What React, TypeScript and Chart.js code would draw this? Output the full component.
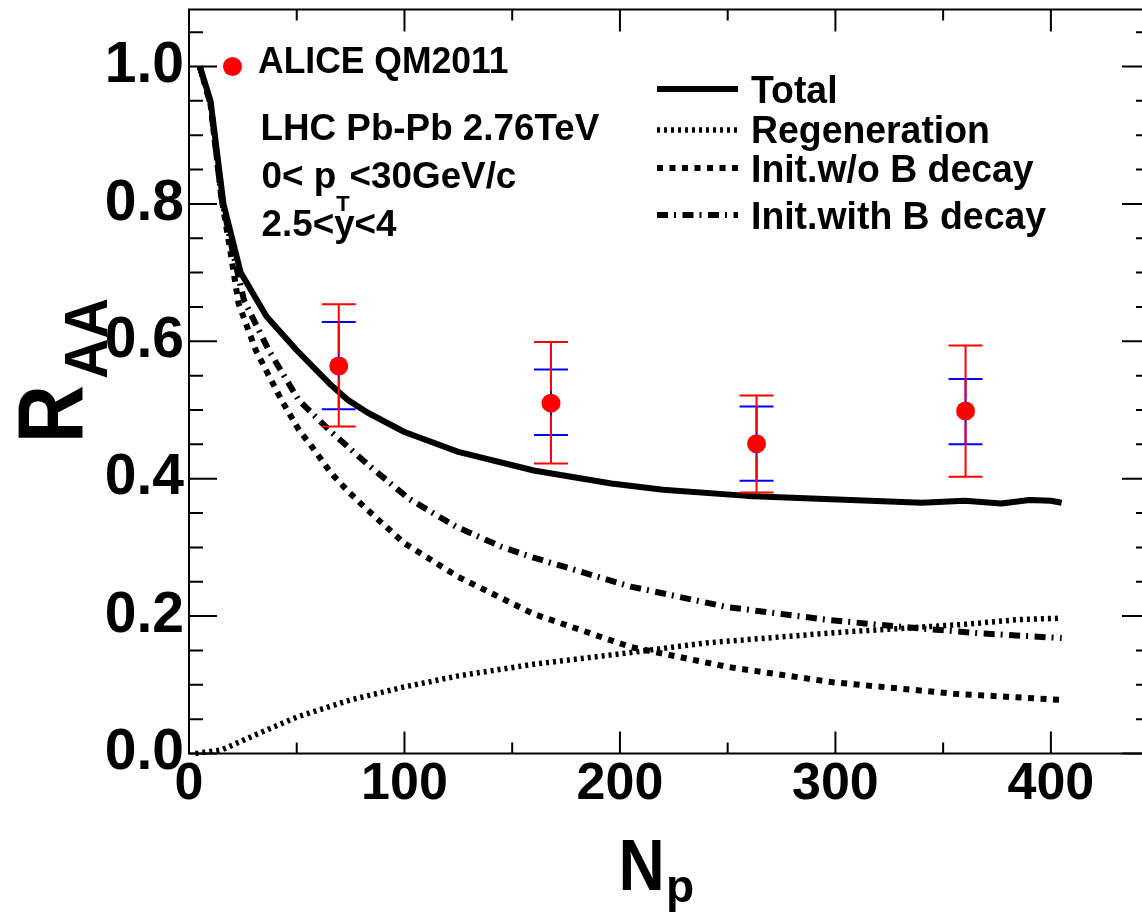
import React, { useEffect, useRef } from "react";
import { Chart, registerables } from "chart.js";

Chart.register(...registerables);

// ---------- data ----------
const npTotal = [5, 10, 16, 24, 36, 50, 65, 74, 83, 100, 125, 160, 196, 220, 259, 298, 340, 360, 377, 390, 400, 405];
const raaTotal = [1.0, 0.95, 0.8, 0.7, 0.636, 0.587, 0.539, 0.514, 0.496, 0.468, 0.439, 0.412, 0.393, 0.384, 0.375, 0.37, 0.365, 0.368, 0.364, 0.369, 0.368, 0.365];

const npRegen = [3, 15, 30, 50, 75, 100, 125, 160, 200, 240, 300, 340, 360, 385, 405];
const raaRegen = [0.0, 0.005, 0.026, 0.053, 0.078, 0.097, 0.113, 0.13, 0.145, 0.161, 0.176, 0.184, 0.188, 0.195, 0.197];

const npInitNoB = [5, 10, 15, 19, 23, 31, 43, 51, 56, 66, 74, 83, 100, 125, 160, 205, 250, 298, 355, 405];
const raaInitNoB = [1.0, 0.945, 0.81, 0.735, 0.655, 0.587, 0.514, 0.471, 0.451, 0.408, 0.381, 0.354, 0.306, 0.257, 0.203, 0.155, 0.126, 0.104, 0.087, 0.078];

const npInitB = [5, 10, 15, 20, 25.5, 37, 51, 66, 84, 102, 124, 145, 160, 205, 250, 298, 332, 367, 405];
const raaInitB = [1.0, 0.945, 0.81, 0.735, 0.66, 0.587, 0.514, 0.468, 0.418, 0.371, 0.33, 0.301, 0.285, 0.243, 0.213, 0.194, 0.184, 0.175, 0.168];

const aliceNp = [69.5, 168, 263.4, 360.4];
const aliceRaa = [0.564, 0.51, 0.451, 0.4985];
const aliceStatLo = [0.501, 0.4635, 0.397, 0.45];
const aliceStatHi = [0.628, 0.559, 0.505, 0.545];
const aliceSysLo = [0.476, 0.422, 0.38, 0.403];
const aliceSysHi = [0.654, 0.599, 0.521, 0.594];

const xMajorTicks = [0, 100, 200, 300, 400];
const xMinorTicks = [50, 150, 250, 350];
const yMajorTicks = [0, 0.2, 0.4, 0.6, 0.8, 1.0];
const yMinorTicks = [0.05, 0.1, 0.15, 0.25, 0.3, 0.35, 0.45, 0.5, 0.55, 0.65, 0.7, 0.75, 0.85, 0.9, 0.95, 1.05];

const legendLabels = ["Total", "Regeneration", "Init.w/o B decay", "Init.with B decay"];

// ---------- helpers ----------
const FONT = "'Liberation Sans', Arial, Helvetica, sans-serif";

function txt(
  ctx: CanvasRenderingContext2D,
  s: string,
  x: number,
  y: number,
  size: number,
  sx = 1,
  sy = 1,
  rot = 0
): number {
  ctx.save();
  ctx.translate(x, y);
  if (rot) ctx.rotate(rot);
  ctx.scale(sx, sy);
  ctx.font = `bold ${size}px ${FONT}`;
  ctx.textAlign = "left";
  ctx.textBaseline = "alphabetic";
  ctx.fillStyle = "#000";
  ctx.fillText(s, 0, 0);
  const w = ctx.measureText(s).width * sx;
  ctx.restore();
  return w;
}

const zip = (xs: number[], ys: number[]) => xs.map((x, i) => ({ x, y: ys[i] }));

const rootPlugin = {
  id: "rootStyle",
  beforeDatasetDraw(chart: any, args: any) {
    if (args.index !== 0) return;
    const ctx: CanvasRenderingContext2D = chart.ctx;
    const xs = chart.scales.x;
    const ys = chart.scales.y;
    ctx.save();
    ctx.lineWidth = 2;
    const cap = 17;
    aliceNp.forEach((np, i) => {
      const px = xs.getPixelForValue(np);
      // stat (blue)
      const sLo = ys.getPixelForValue(aliceStatLo[i]);
      const sHi = ys.getPixelForValue(aliceStatHi[i]);
      ctx.strokeStyle = "#0000ff";
      ctx.beginPath();
      ctx.moveTo(px, sLo);
      ctx.lineTo(px, sHi);
      ctx.moveTo(px - cap, sLo);
      ctx.lineTo(px + cap, sLo);
      ctx.moveTo(px - cap, sHi);
      ctx.lineTo(px + cap, sHi);
      ctx.stroke();
      // sys (red)
      const py = ys.getPixelForValue(aliceRaa[i]);
      const rLo = ys.getPixelForValue(aliceSysLo[i]);
      const rHi = ys.getPixelForValue(aliceSysHi[i]);
      ctx.strokeStyle = "#ff0000";
      ctx.beginPath();
      ctx.moveTo(px, rHi);
      ctx.lineTo(px, py - 12);
      ctx.moveTo(px, py + 12);
      ctx.lineTo(px, rLo);
      ctx.moveTo(px - cap, rLo);
      ctx.lineTo(px + cap, rLo);
      ctx.moveTo(px - cap, rHi);
      ctx.lineTo(px + cap, rHi);
      ctx.stroke();
    });
    ctx.restore();
  },
  afterDraw(chart: any) {
    const ctx: CanvasRenderingContext2D = chart.ctx;
    const { left, right, top, bottom } = chart.chartArea;
    const xs = chart.scales.x;
    const ys = chart.scales.y;
    ctx.save();
    ctx.strokeStyle = "#000";
    ctx.lineWidth = 2;
    ctx.setLineDash([]);
    ctx.strokeRect(left, top, right - left, bottom - top);
    ctx.beginPath();
    const yt = (v: number, len: number) => {
      const p = ys.getPixelForValue(v);
      ctx.moveTo(left, p);
      ctx.lineTo(left + len, p);
      ctx.moveTo(right, p);
      ctx.lineTo(right - len, p);
    };
    const xt = (v: number, len: number) => {
      const p = xs.getPixelForValue(v);
      ctx.moveTo(p, bottom);
      ctx.lineTo(p, bottom - len);
      ctx.moveTo(p, top);
      ctx.lineTo(p, top + len);
    };
    yMajorTicks.forEach((v) => yt(v, 28));
    yMinorTicks.forEach((v) => yt(v, 14));
    xMajorTicks.forEach((v) => xt(v, 22));
    xMinorTicks.forEach((v) => xt(v, 11));
    ctx.stroke();

    // axis titles
    txt(ctx, "R", 82, 443, 80, 1, 1.17, -Math.PI / 2);
    txt(ctx, "AA", 107, 379, 56, 1, 1.1, -Math.PI / 2);
    txt(ctx, "N", 618.5, 890, 64, 1, 1.135);
    txt(ctx, "p", 666, 902, 46, 1, 1);

    // ALICE legend entry
    ctx.fillStyle = "#ff0000";
    ctx.beginPath();
    ctx.arc(232.5, 66.5, 9.5, 0, Math.PI * 2);
    ctx.fill();
    txt(ctx, "ALICE QM2011", 258, 73, 35.5, 1, 1.02);

    // conditions
    txt(ctx, "LHC Pb-Pb 2.76TeV", 260.5, 140, 36.8, 1, 1.02);
    let cx = 261.5;
    cx += txt(ctx, "0< p", cx, 188, 36.8, 1, 1.02);
    cx += txt(ctx, "T", cx, 211, 22);
    txt(ctx, "<30GeV/c", cx, 188, 36.8, 1, 1.02);
    txt(ctx, "2.5<y<4", 261.5, 236, 36.8, 1, 1.02);

    // model legend
    const lineY = [89, 130, 168, 215];
    const textY = [103, 143, 182, 229];
    for (let i = 0; i < 4; i++) {
      const ds = chart.data.datasets[i + 1];
      ctx.save();
      ctx.strokeStyle = "#000";
      ctx.lineWidth = ds.borderWidth;
      ctx.setLineDash(ds.borderDash || []);
      ctx.lineCap = "butt";
      ctx.beginPath();
      ctx.moveTo(657, lineY[i]);
      ctx.lineTo(738, lineY[i]);
      ctx.stroke();
      ctx.restore();
      txt(ctx, legendLabels[i], 751, textY[i], 37.4, 1, 1.05);
    }
    ctx.restore();
  },
};

export default function App() {
  const ref = useRef<HTMLCanvasElement | null>(null);
  useEffect(() => {
    if (!ref.current) return;
    const lineDs = (label: string, xs: number[], ys: number[], width: number, dash: number[]) => ({
      label,
      data: zip(xs, ys),
      showLine: true,
      borderColor: "#000",
      backgroundColor: "#000",
      borderWidth: width,
      borderDash: dash,
      borderCapStyle: "butt",
      borderJoinStyle: "round",
      pointRadius: 0,
      tension: 0,
      clip: false,
      order: 1,
    });
    const chart = new Chart(ref.current, {
      type: "scatter",
      data: {
        datasets: [
          {
            label: "ALICE QM2011",
            data: zip(aliceNp, aliceRaa),
            showLine: false,
            pointRadius: 9.5,
            pointBackgroundColor: "#ff0000",
            pointBorderColor: "#ff0000",
            pointBorderWidth: 0,
            order: 0,
            clip: false,
          },
          lineDs(legendLabels[0], npTotal, raaTotal, 6, []),
          lineDs(legendLabels[1], npRegen, raaRegen, 5.5, [3, 4]),
          lineDs(legendLabels[2], npInitNoB, raaInitNoB, 6, [6, 6.5]),
          lineDs(legendLabels[3], npInitB, raaInitB, 6, [11, 6, 2, 6.5]),
        ] as any,
      },
      options: {
        animation: false,
        responsive: false,
        devicePixelRatio: 1,
        layout: { padding: { left: 0, right: 10, top: 9.5, bottom: 0 } },
        plugins: { legend: { display: false }, tooltip: { enabled: false } },
        scales: {
          x: {
            type: "linear",
            min: 0,
            max: 446,
            afterBuildTicks: (s: any) => {
              s.ticks = xMajorTicks.map((v) => ({ value: v }));
            },
            afterFit: (s: any) => {
              s.height = 160.5;
              s.paddingLeft = 0;
              s.paddingRight = 0;
              s.paddingTop = 0;
              s.paddingBottom = 0;
            },
            grid: { display: false, drawTicks: false },
            border: { display: false },
            ticks: {
              font: { family: FONT, size: 52, weight: "bold" },
              color: "#000",
              padding: 0,
              maxRotation: 0,
              autoSkip: false,
              callback: (v: any) => String(v),
            },
          },
          y: {
            type: "linear",
            min: 0,
            max: 1.083,
            afterBuildTicks: (s: any) => {
              s.ticks = yMajorTicks.map((v) => ({ value: v }));
            },
            afterFit: (s: any) => {
              s.width = 189;
              s.paddingLeft = 0;
              s.paddingRight = 0;
              s.paddingTop = 0;
              s.paddingBottom = 0;
            },
            grid: { display: false, drawTicks: false },
            border: { display: false },
            ticks: {
              font: { family: FONT, size: 57, weight: "bold" },
              color: "#000",
              padding: 5,
              autoSkip: false,
              callback: (v: any) => Number(v).toFixed(1),
            },
          },
        },
      } as any,
      plugins: [rootPlugin],
    });
    return () => chart.destroy();
  }, []);

  return (
    <div
      style={{
        position: "absolute",
        left: 0,
        top: 0,
        width: 1142,
        height: 914,
        overflow: "hidden",
        background: "#fff",
      }}
    >
      <canvas ref={ref} width={1160} height={914} style={{ display: "block", width: 1160, height: 914 }} />
    </div>
  );
}
